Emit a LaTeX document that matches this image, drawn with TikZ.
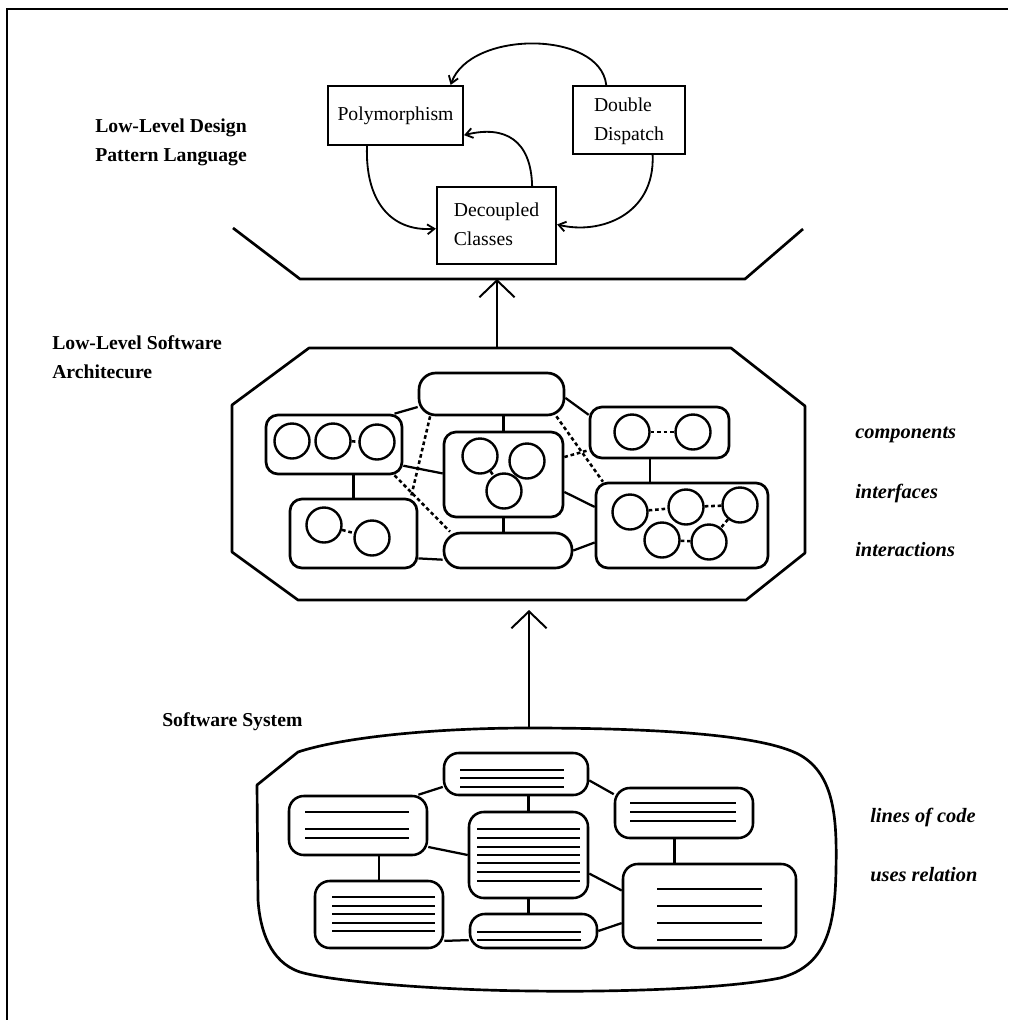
\documentclass[tikz,border=0pt]{standalone}
\usepackage{fontspec}
\setmainfont{Liberation Serif}
\usetikzlibrary{arrows.meta,fit}
\begin{document}
\begin{tikzpicture}[x=0.025cm, y=-0.025cm,
  font=\fontsize{14}{21}\selectfont,
  framelines/.style={line width=1.8pt},
  shapeline/.style={line width=1.9pt, line join=round},
  pbox/.style={draw, line width=1.5pt, inner sep=0pt},
  boxtext/.style={align=left, inner sep=0pt},
  comp/.style={draw, line width=1.9pt, rounded corners=0.3cm, inner sep=0pt},
  iface/.style={draw, line width=1.9pt, rounded corners=0.42cm, inner sep=0pt},
  cls/.style={draw, circle, line width=1.7pt, minimum size=0.875cm, inner sep=0pt},
  solidlink/.style={line width=1.6pt},
  dashlink/.style={line width=1.8pt, dash pattern=on 2.6pt off 2pt},
  codebox/.style={draw, line width=1.8pt, rounded corners=0.37cm, inner sep=0pt},
  codeline/.style={line width=2.1pt},
  bigarrow/.style={line width=1.4pt, -{Straight Barb[length=12pt, width=25pt, line width=1.4pt]}},
  patarrow/.style={line width=1.3pt, -{Straight Barb[length=5pt, width=7pt, line width=1.3pt]}},
  lvlabel/.style={font=\fontsize{14}{20.5}\selectfont\bfseries, align=left, anchor=west, inner sep=0pt},
  sidenote/.style={font=\fontsize{14.5}{17}\selectfont\bfseries\itshape, anchor=west, inner sep=0pt},
]
\useasboundingbox (0,0) rectangle (1008,1020);

% page frame (top and left rules)
\draw[framelines] (7,1020) -- (7,9) -- (1008,9);

% level titles
\node[lvlabel] (lblD) at (95,142) {Low-Level Design\\Pattern Language};
\node[lvlabel] (lblA) at (52,357) {Low-Level Software\\Architecure};
\node[lvlabel] (lblS) at (162,722) {Software System};

% ---------------- pattern language ----------------
\node[pbox, fit={(328,86) (463,145)}] (P) {};
\node[pbox, fit={(573,86) (685,154)}] (DD) {};
\node[pbox, fit={(437,187) (556,264)}] (DC) {};
\node[boxtext] (Pt) at (P.center) {Polymorphism};
\node[boxtext] (DDt) at ([yshift=-1pt]DD.center) {Double\\Dispatch};
\node[boxtext] (DCt) at ([yshift=1pt]DC.center) {Decoupled\\Classes};

\draw[patarrow] (DD.123) .. controls (600,30) and (470,30) .. (P.29);
\draw[patarrow] (DC.48) .. controls (531,140) and (505,125) .. (P.-16);
\draw[patarrow] (P.227) .. controls (365,200) and (390,232) .. (DC.183);
\draw[patarrow] (DD.-56) .. controls (655,215) and (600,235) .. (DC.1);

% open tray holding the pattern language
\draw[shapeline] (233,228) -- (300,279) -- (745,279) -- (803,229);

\coordinate (hexB) at (497,279);
\coordinate (octT) at (497,348);
\draw[bigarrow] (octT) -- (hexB);

% ---------------- software architecture ----------------
\draw[shapeline] (309,348) -- (731,348) -- (805,406) -- (805,553) -- (746,600)
  -- (298,600) -- (232,552) -- (232,405) -- cycle;

\node[iface, fit={(419,373) (564,415)}] (TI) {};
\node[iface, fit={(444,533) (572,568)}] (BI) {};
\node[comp, fit={(266,415) (402,474)}] (L) {};
\node[comp, fit={(444,432) (563,517)}] (C) {};
\node[comp, fit={(290,499) (417,568)}] (BL) {};
\node[comp, fit={(590,407) (729,458)}] (RT) {};
\node[comp, fit={(596,483) (768,568)}] (RB) {};

% classes inside the components
\node[cls] (L1) at (292,441) {};
\node[cls] (L2) at (333,441) {};
\node[cls] (L3) at (377,442) {};
\node[cls] (C1) at (480,456) {};
\node[cls] (C2) at (527,461) {};
\node[cls] (C3) at (504,491) {};
\node[cls] (BL1) at (324,525) {};
\node[cls] (BL2) at (372,538) {};
\node[cls] (RT1) at (632,432) {};
\node[cls] (RT2) at (693,432) {};
\node[cls] (RB1) at (630,512) {};
\node[cls] (RB2) at (686,507) {};
\node[cls] (RB3) at (740,505) {};
\node[cls] (RB4) at (662,540) {};
\node[cls] (RB5) at (709,542) {};

\draw[dashlink] (L2) -- (L3);
\draw[dashlink] (C1) -- (C3);
\draw[dashlink] (BL1) -- (BL2);
\draw[dashlink] (RT1) -- (RT2);
\draw[dashlink] (RB1) -- (RB2);
\draw[dashlink] (RB2) -- (RB3);
\draw[dashlink] (RB3) -- (RB5);
\draw[dashlink] (RB4) -- (RB5);

% interfaces between components
\draw[solidlink] (TI.south -| C.north) -- (C.north);
\draw[solidlink] (TI.190) -- (L.27);
\draw[solidlink] (TI.-3) -- (RT.166);
\draw[solidlink] (L.south -| BL.north) -- (BL.north);
\draw[solidlink] (L.-17) -- (C.179);
\draw[solidlink] (C.south) -- (C.south |- BI.north);
\draw[solidlink] (C.-16) -- (RB.168);
\draw[solidlink] (BL.-21) -- (BI.188);
\draw[solidlink] (BI.east) -- (RB.191);
\draw[solidlink] (RT.250) -- (RT.250 |- RB.north);

% interactions
\draw[dashlink] (TI.200) -- (BL.32);
\draw[dashlink] (L.-27) -- (BI.162);
\draw[dashlink] (TI.-19) -- (RB.151);
\draw[dashlink] (C.16) -- (RT.194);

\node[sidenote] (nComp) at (855,435) {components};
\node[sidenote] (nIf) at (855,493) {interfaces};
\node[sidenote] (nInt) at (855,550) {interactions};

\coordinate (octB) at (529,610);
\coordinate (blobT) at (529,728);
\draw[bigarrow] (blobT) -- (octB);

% ---------------- software system ----------------
\draw[shapeline] (257,785) -- (298,752)
  .. controls (340,738) and (430,728) .. (529,728)
  .. controls (640,728) and (760,733) .. (800,755)
  .. controls (835,775) and (837,820) .. (836,870)
  .. controls (835,930) and (825,966) .. (780,978)
  .. controls (720,990) and (600,992) .. (533,991)
  .. controls (430,990) and (330,981) .. (300,972)
  .. controls (270,962) and (260,930) .. (258,900) -- cycle;

\node[codebox, fit={(444,753) (588,795)}] (B1) {};
\node[codebox, fit={(289,796) (427,855)}] (B2) {};
\node[codebox, fit={(469,812) (588,898)}] (B3) {};
\node[codebox, fit={(615,788) (753,838)}] (B4) {};
\node[codebox, fit={(315,881) (443,948)}] (B5) {};
\node[codebox, fit={(470,914) (597,948)}] (B6) {};
\node[codebox, fit={(623,864) (796,948)}] (B7) {};

% lines of code
\foreach \y in {770,778,787} \draw[codeline] (460,\y) -- (564,\y);
\foreach \y in {812,829,838} \draw[codeline] (305,\y) -- (409,\y);
\foreach \y in {829,838,847,855,863,872,881} \draw[codeline] (477,\y) -- (580,\y);
\foreach \y in {803,812,821} \draw[codeline] (630,\y) -- (736,\y);
\foreach \y in {897,906,914,923,931} \draw[codeline] (332,\y) -- (435,\y);
\foreach \y in {932,940} \draw[codeline] (477,\y) -- (581,\y);
\foreach \y in {889,906,923,940} \draw[codeline] (657,\y) -- (762,\y);

% uses relation
\draw[solidlink] (B1.190) -- (B2.27);
\draw[solidlink] (B1.south -| B3.north) -- (B3.north);
\draw[solidlink] (B1.-5) -- (B4.165);
\draw[solidlink] (B2.-17) -- (B3.west);
\draw[solidlink] (B2.south -| B5.north) -- (B5.north);
\draw[solidlink] (B3.south) -- (B3.south |- B6.north);
\draw[solidlink] (B3.-17) -- (B7.170);
\draw[solidlink] (B4.250) -- (B4.250 |- B7.north);
\draw[solidlink] (B5.-22) -- (B6.188);
\draw[solidlink] (B6.east) -- (B7.191);

\node[sidenote] (nLoc) at (870,817) {lines of code};
\node[sidenote] (nUses) at (870,875) {uses relation};
\end{tikzpicture}
\end{document}
